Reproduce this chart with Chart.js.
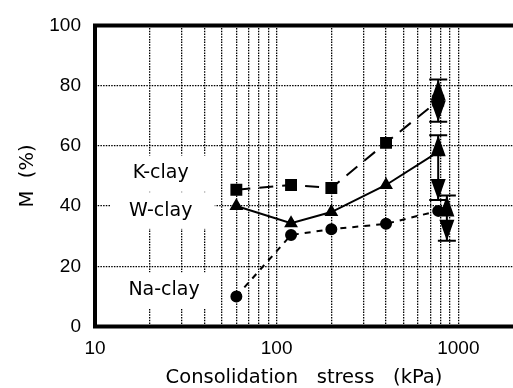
<!DOCTYPE html>
<html>
<head>
<meta charset="utf-8">
<script src="https://cdn.jsdelivr.net/npm/chart.js@4/dist/chart.umd.min.js"></script>
<style>
  html, body { margin: 0; padding: 0; background: #fff; overflow: hidden; }
  #wrap { width: 522px; height: 388px; }
</style>
</head>
<body>
<div id="wrap"><canvas id="chart" width="522" height="388"></canvas></div>
<script>
// data
const stress = [60, 120, 200, 400, 775];
const kClay = [45.4, 47, 46, 61, 75];
const wClay = [40, 34.3, 38, 47, 58];
const naClay = [10, 30.4, 32.3, 34.1, 38.4];

// error bars at the last stress step (K, W, Na)
const errX = [775, 775, 865];
const errLow = [68, 42, 28.5];
const errHigh = [82, 63.5, 43.5];

const xTicks = [10, 20, 30, 40, 50, 60, 70, 80, 90, 100, 200, 300, 400, 500, 600, 700, 800, 900, 1000];
const xLabels = [10, 100, 1000];
const yTicks = [0, 20, 40, 60, 80, 100];

const seriesNames = ['K-clay', 'W-clay', 'Na-clay'];
const nameX = [23, 23, 24];
const nameY = [50.8, 38.4, 12];

const TICKFONT = '"Liberation Sans", Arial, sans-serif';
const TEXTFONT = '"DejaVu Sans", Verdana, sans-serif';

function pts(ys) {
  return stress.map((s, i) => ({ x: s, y: ys[i] }));
}

const extras = {
  id: 'extras',
  beforeDatasetsDraw(chart) {
    const { ctx, scales: { x, y } } = chart;
    ctx.save();
    ctx.font = '19px ' + TEXTFONT;
    ctx.textAlign = 'center';
    ctx.textBaseline = 'middle';
    seriesNames.forEach((n, i) => {
      const px = x.getPixelForValue(nameX[i]);
      const py = y.getPixelForValue(nameY[i]);
      ctx.fillStyle = '#fff';
      ctx.fillRect(px - 50, py - 18, 104, 36);
      ctx.fillStyle = '#000';
      ctx.fillText(n, px, py);
    });
    ctx.restore();
  },
  afterDatasetsDraw(chart) {
    const { ctx, scales: { x, y } } = chart;
    ctx.save();
    ctx.strokeStyle = '#000';
    ctx.fillStyle = '#000';
    ctx.lineWidth = 2;
    errX.forEach((v, i) => {
      const px = x.getPixelForValue(v);
      const top = y.getPixelForValue(errHigh[i]);
      const bot = y.getPixelForValue(errLow[i]);
      ctx.beginPath();
      ctx.moveTo(px, top); ctx.lineTo(px, bot);
      ctx.moveTo(px - 9, top); ctx.lineTo(px + 9, top);
      ctx.moveTo(px - 9, bot); ctx.lineTo(px + 9, bot);
      ctx.stroke();
      const len = Math.min(21, (bot - top) / 2);
      ctx.beginPath();
      ctx.moveTo(px, top); ctx.lineTo(px - 7.5, top + len); ctx.lineTo(px + 7.5, top + len);
      ctx.closePath();
      ctx.moveTo(px, bot); ctx.lineTo(px - 7.5, bot - len); ctx.lineTo(px + 7.5, bot - len);
      ctx.closePath();
      ctx.fill();
    });
    ctx.restore();
  },
  afterDraw(chart) {
    // plot frame: left, bottom and top (right side runs off the page)
    const { ctx, chartArea: a } = chart;
    ctx.save();
    ctx.strokeStyle = '#000';
    ctx.lineWidth = 4;
    ctx.beginPath();
    ctx.moveTo(a.right, a.top);
    ctx.lineTo(a.left, a.top);
    ctx.lineTo(a.left, a.bottom);
    ctx.lineTo(a.right, a.bottom);
    ctx.stroke();
    ctx.restore();
  }
};

new Chart(document.getElementById('chart'), {
  type: 'line',
  data: {
    datasets: [
      {
        label: 'K-clay',
        data: pts(kClay),
        borderColor: '#000',
        backgroundColor: '#000',
        borderWidth: 2,
        borderDash: [14, 9],
        pointStyle: 'rect',
        pointRadius: 7,
        tension: 0
      },
      {
        label: 'W-clay',
        data: pts(wClay),
        borderColor: '#000',
        backgroundColor: '#000',
        borderWidth: 2,
        pointStyle: 'triangle',
        pointRadius: 6,
        tension: 0
      },
      {
        label: 'Na-clay',
        data: pts(naClay),
        borderColor: '#000',
        backgroundColor: '#000',
        borderWidth: 2,
        borderDash: [6, 6],
        pointStyle: 'circle',
        pointRadius: 5,
        tension: 0
      }
    ]
  },
  options: {
    responsive: false,
    animation: false,
    layout: { padding: { top: 17.5, right: 2, bottom: 0, left: 0 } },
    plugins: {
      legend: { display: false },
      tooltip: { enabled: false }
    },
    scales: {
      x: {
        type: 'logarithmic',
        min: 10,
        max: 2000,
        afterBuildTicks: (s) => { s.ticks = xTicks.map(v => ({ value: v })); },
        afterFit: (s) => { s.height = 61.5; },
        ticks: {
          autoSkip: false,
          maxRotation: 0,
          padding: 11,
          color: '#000',
          font: { family: TICKFONT, size: 19 },
          callback: (v) => xLabels.includes(v) ? String(v) : ''
        },
        grid: {
          drawTicks: false,
          color: (c) => (c.tick && c.tick.value === 10) ? 'rgba(0,0,0,0)' : '#000',
          lineWidth: 1.3
        },
        border: { display: false, dash: [1.5, 1.2] },
        title: {
          display: true,
          text: 'Consolidation   stress   (kPa)',
          color: '#000',
          font: { family: TEXTFONT, size: 19.5 },
          padding: { top: 0, bottom: -2 }
        }
      },
      y: {
        min: 0,
        max: 100,
        afterBuildTicks: (s) => { s.ticks = yTicks.map(v => ({ value: v })); },
        afterFit: (s) => { s.width = 95; },
        ticks: {
          padding: 14,
          color: '#000',
          font: { family: TICKFONT, size: 19 }
        },
        grid: {
          drawTicks: false,
          color: (c) => (c.tick && (c.tick.value === 0 || c.tick.value === 100)) ? 'rgba(0,0,0,0)' : '#000',
          lineWidth: 1.3
        },
        border: { display: false, dash: [1.5, 1.2] },
        title: {
          display: true,
          text: 'M  (%)',
          color: '#000',
          font: { family: TEXTFONT, size: 19.5 },
          padding: 16
        }
      }
    }
  },
  plugins: [extras]
});
</script>
</body>
</html>
